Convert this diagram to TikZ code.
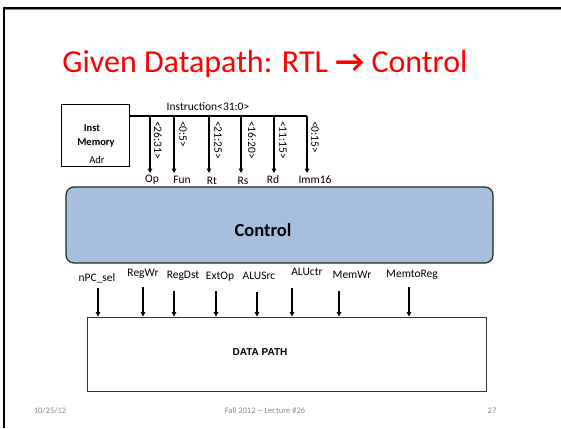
\documentclass[tikz,border=0pt]{standalone}
\usepackage{fontspec}
\setmainfont{Carlito}
\newfontfamily\arialfont{Liberation Sans}
\usetikzlibrary{arrows.meta}
\definecolor{ctrlfill}{HTML}{A7BFDE}
\definecolor{footgray}{HTML}{8C8C8C}
\tikzset{
  lbl/.style={inner sep=0pt, font=\fontsize{11.5}{13}\selectfont},
  bitlbl/.style={inner sep=0pt, anchor=west, rotate=-90, font=\fontsize{11.5}{13}\selectfont},
  sig/.style={line width=1.2pt, -{Triangle[width=4.5pt,length=4.5pt]}},
  foot/.style={inner sep=0pt, text=footgray, font=\fontsize{8.5}{10}\selectfont},
}
\begin{document}
\begin{tikzpicture}[x=1pt, y=-1pt]
\useasboundingbox (0,0) rectangle (561,428);
% slide frame
\draw[line width=2pt] (4,428) -- (4,8) -- (561,8);
\draw[line width=0.6pt, black!45] (5,9.8) -- (561,9.8);

% title
\node[inner sep=0pt, text=red, font=\fontsize{32}{36}\selectfont] (title) at (265,64) {Given Datapath: RTL \textbf{→} Control};

% instruction memory
\node[draw, line width=1pt, minimum width=68pt, minimum height=62pt, inner sep=0pt] (imem) at (95,135) {};
\node[lbl, font=\fontsize{10.5}{12}\selectfont\bfseries] (imemA) at (92,128) {Inst};
\node[lbl, font=\fontsize{10.5}{12}\selectfont\bfseries] (imemB) at (96,143) {Memory};
\node[lbl, font=\fontsize{10.5}{12}\selectfont] (imemC) at (97,160) {Adr};

% instruction bus
\coordinate (busL) at (129,116);
\coordinate (busR) at (307,116);
\draw[line width=1.2pt] (busL) -- (busR);
\node[lbl] (instr) at (208,107) {Instruction<31:0>};

% bit-field taps
\foreach \n/\x in {1/150,2/174,3/209,4/241,5/274,6/307}{
  \coordinate (tap\n) at (\x,116);
  \coordinate (tip\n) at (\x,173);
  \draw[sig] (tap\n) -- (tip\n);
}
\node[bitlbl] (f1) at (158,121) {<26:31>};
\node[bitlbl] (f2) at (183,121) {<0:5>};
\node[bitlbl] (f3) at (218,121) {<21:25>};
\node[bitlbl] (f4) at (252,121) {<16:20>};
\node[bitlbl] (f5) at (283,121) {<11:15>};
\node[bitlbl] (f6) at (315,121) {<0:15>};

\node[lbl] (op) at (152,180) {Op};
\node[lbl] (fun) at (182,180) {Fun};
\node[lbl] (rt) at (212,181) {Rt};
\node[lbl] (rs) at (243,181) {Rs};
\node[lbl] (rd) at (273,180) {Rd};
\node[lbl] (imm) at (315,180) {Imm16};

% control unit
\node[draw=black!85, line width=1.2pt, fill=ctrlfill, rounded corners=8pt,
      minimum width=427pt, minimum height=76pt, inner sep=0pt] (ctrl) at (279.5,225) {};
\node[inner sep=0pt, font=\fontsize{18.5}{20}\selectfont\bfseries] (ctrltxt) at (263,230) {Control};

% control signals
\node[lbl] (s1) at (97,278) {nPC\_sel};
\node[lbl] (s2) at (143,274) {RegWr};
\node[lbl] (s3) at (183,276) {RegDst};
\node[lbl] (s4) at (220,277) {ExtOp};
\node[lbl] (s5) at (259,276) {ALUSrc};
\node[lbl] (s6) at (307,272) {ALUctr};
\node[lbl] (s7) at (352,275) {MemWr};
\node[lbl] (s8) at (412,275) {MemtoReg};

% datapath
\node[draw=black!80, line width=0.9pt, minimum width=399pt, minimum height=74pt, inner sep=0pt] (dp) at (286.5,354) {};
\node[inner sep=0pt, font=\arialfont\bfseries\fontsize{10}{12}\selectfont] (dptxt) at (260,352) {DATA PATH};

\foreach \n/\x/\y in {1/98/288,2/143/287,3/174/291,4/216/291,5/257/292,6/292/288,7/339/291,8/409/287}{
  \coordinate (sa\n) at (\x,\y);
  \draw[sig] (sa\n) -- (sa\n |- dp.north);
}

% footer
\node[foot] (date) at (50,411) {10/25/12};
\node[foot] (lect) at (265,411) {Fall 2012 {-}{-} Lecture \#26};
\node[foot] (page) at (492,411) {27};
\end{tikzpicture}
\end{document}
